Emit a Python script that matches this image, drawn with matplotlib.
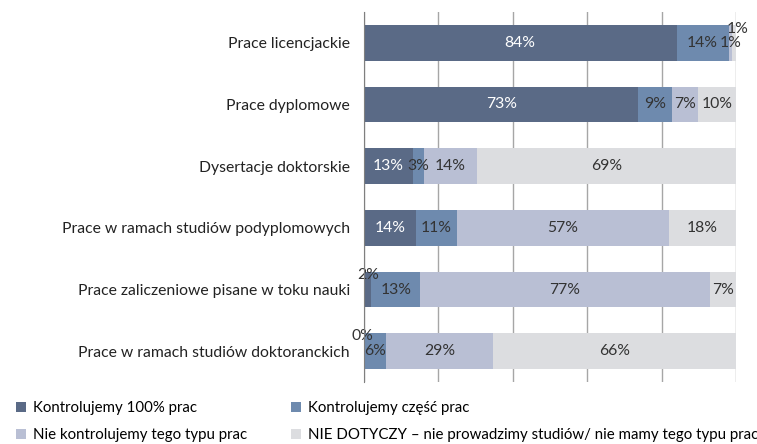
import matplotlib
matplotlib.use("Agg")
import matplotlib.pyplot as plt
from matplotlib.patches import Patch

plt.rcParams['font.family'] = ['Lato', 'DejaVu Sans']

categories = [
    "Prace licencjackie",
    "Prace dyplomowe",
    "Dysertacje doktorskie",
    "Prace w ramach studiów podyplomowych",
    "Prace zaliczeniowe pisane w toku nauki",
    "Prace w ramach studiów doktoranckich",
]
series_names = [
    "Kontrolujemy 100% prac",
    "Kontrolujemy część prac",
    "Nie kontrolujemy tego typu prac",
    "NIE DOTYCZY – nie prowadzimy studiów/ nie mamy tego typu prac",
]
full_control = [84, 73, 13, 14, 2, 0]
partial_control = [14, 9, 3, 11, 13, 6]
no_control = [1, 7, 14, 57, 77, 29]
not_applicable = [1, 10, 69, 18, 7, 66]

colors = ["#5a6a86", "#6e8aae", "#b9bfd4", "#dcdde0"]
text_colors = ["white", "#333333", "#333333", "#333333"]

# label nudges (dx in %, dy in rows) for the crowded small labels
nudges = {(0, 3): (0.8, -0.22), (4, 0): (0.0, -0.24), (5, 0): (-0.5, -0.25)}

series = [full_control, partial_control, no_control, not_applicable]

fig = plt.figure(figsize=(7.57, 4.44), dpi=100)
ax = fig.add_axes([0.4808, 0.1396, 0.4915, 0.8334])

fs = 11.3
for i in range(len(categories)):
    total = sum(s[i] for s in series)
    left = 0
    for j, s in enumerate(series):
        w = s[i] / total * 100
        ax.barh(i, w, left=left, height=0.58, color=colors[j], zorder=3)
        dx, dy = nudges.get((i, j), (0, 0))
        tc = "#333333" if (i, j) in nudges else text_colors[j]
        ax.text(left + w / 2 + dx, i + dy, f"{s[i]}%", ha="center", va="center",
                fontsize=fs, color=tc, zorder=4, clip_on=False)
        left += w

ax.set_xlim(0, 100)
ax.set_ylim(5.5, -0.5)
ax.set_yticks(range(len(categories)))
ax.set_yticklabels(categories, fontsize=fs, color="#222222")
ax.set_xticks([0, 20, 40, 60, 80, 100])
ax.xaxis.grid(True, color="#a6a6a6", linewidth=1, zorder=0)
ax.tick_params(axis="x", length=0, labelbottom=False)
ax.tick_params(axis="y", length=0, pad=10)
for side in ["top", "right", "bottom"]:
    ax.spines[side].set_visible(False)
ax.spines["left"].set_color("#7f7f7f")
ax.spines["left"].set_zorder(5)

# legend fills column-wise, reorder so it reads row-wise like the original
order = [0, 2, 1, 3]
handles = [Patch(facecolor=colors[k], edgecolor="none") for k in order]
labels = [series_names[k] for k in order]
fig.legend(handles, labels, loc="lower left", bbox_to_anchor=(0.003, -0.026),
           ncol=2, frameon=False, fontsize=10.8, handlelength=0.7, handleheight=0.7,
           handletextpad=0.45, columnspacing=2.9, labelspacing=0.85)

fig.savefig("out.png", dpi=100)
